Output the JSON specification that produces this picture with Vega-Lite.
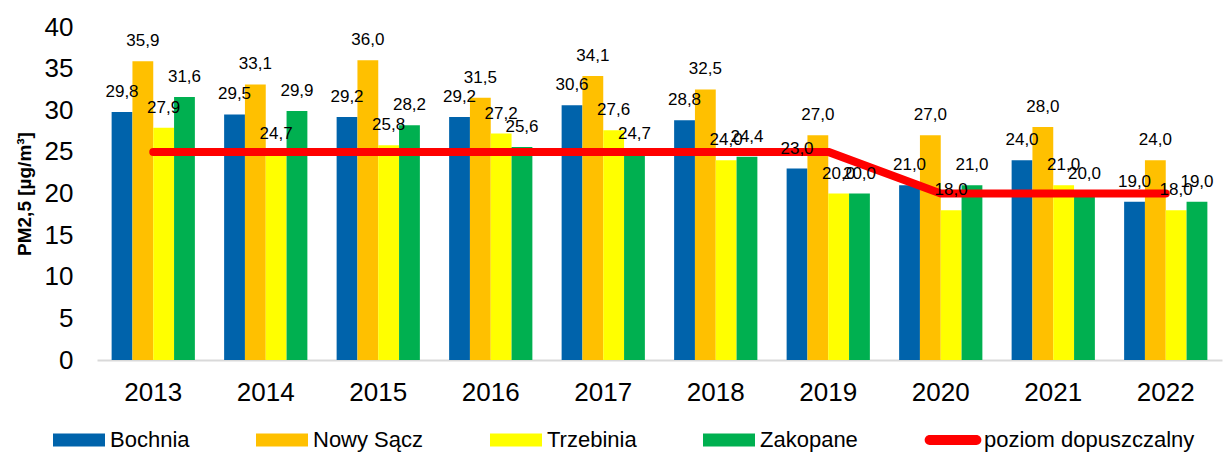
{
  "$schema": "https://vega.github.io/schema/vega-lite/v6.json",
  "autosize": "none",
  "width": 1125,
  "height": 333,
  "padding": {"left": 97, "top": 27, "right": 6, "bottom": 93},
  "background": "white",
  "config": {
    "font": "Liberation Sans",
    "view": {"stroke": null},
    "locale": {"number": {"decimal": ",", "thousands": " ", "grouping": [3], "currency": ["", " zł"]}}
  },
  "datasets": {
    "bars": [
      {"year": "2013", "series": "Bochnia", "value": 29.8},
      {"year": "2013", "series": "Nowy Sącz", "value": 35.9},
      {"year": "2013", "series": "Trzebinia", "value": 27.9},
      {"year": "2013", "series": "Zakopane", "value": 31.6},
      {"year": "2014", "series": "Bochnia", "value": 29.5},
      {"year": "2014", "series": "Nowy Sącz", "value": 33.1},
      {"year": "2014", "series": "Trzebinia", "value": 24.7},
      {"year": "2014", "series": "Zakopane", "value": 29.9},
      {"year": "2015", "series": "Bochnia", "value": 29.2},
      {"year": "2015", "series": "Nowy Sącz", "value": 36.0},
      {"year": "2015", "series": "Trzebinia", "value": 25.8},
      {"year": "2015", "series": "Zakopane", "value": 28.2},
      {"year": "2016", "series": "Bochnia", "value": 29.2},
      {"year": "2016", "series": "Nowy Sącz", "value": 31.5},
      {"year": "2016", "series": "Trzebinia", "value": 27.2},
      {"year": "2016", "series": "Zakopane", "value": 25.6},
      {"year": "2017", "series": "Bochnia", "value": 30.6},
      {"year": "2017", "series": "Nowy Sącz", "value": 34.1},
      {"year": "2017", "series": "Trzebinia", "value": 27.6},
      {"year": "2017", "series": "Zakopane", "value": 24.7},
      {"year": "2018", "series": "Bochnia", "value": 28.8},
      {"year": "2018", "series": "Nowy Sącz", "value": 32.5},
      {"year": "2018", "series": "Trzebinia", "value": 24.0},
      {"year": "2018", "series": "Zakopane", "value": 24.4},
      {"year": "2019", "series": "Bochnia", "value": 23.0},
      {"year": "2019", "series": "Nowy Sącz", "value": 27.0},
      {"year": "2019", "series": "Trzebinia", "value": 20.0},
      {"year": "2019", "series": "Zakopane", "value": 20.0},
      {"year": "2020", "series": "Bochnia", "value": 21.0},
      {"year": "2020", "series": "Nowy Sącz", "value": 27.0},
      {"year": "2020", "series": "Trzebinia", "value": 18.0},
      {"year": "2020", "series": "Zakopane", "value": 21.0},
      {"year": "2021", "series": "Bochnia", "value": 24.0},
      {"year": "2021", "series": "Nowy Sącz", "value": 28.0},
      {"year": "2021", "series": "Trzebinia", "value": 21.0},
      {"year": "2021", "series": "Zakopane", "value": 20.0},
      {"year": "2022", "series": "Bochnia", "value": 19.0},
      {"year": "2022", "series": "Nowy Sącz", "value": 24.0},
      {"year": "2022", "series": "Trzebinia", "value": 18.0},
      {"year": "2022", "series": "Zakopane", "value": 19.0}
    ],
    "limit": [
      {"year": "2013", "series": "poziom dopuszczalny", "value": 25},
      {"year": "2014", "series": "poziom dopuszczalny", "value": 25},
      {"year": "2015", "series": "poziom dopuszczalny", "value": 25},
      {"year": "2016", "series": "poziom dopuszczalny", "value": 25},
      {"year": "2017", "series": "poziom dopuszczalny", "value": 25},
      {"year": "2018", "series": "poziom dopuszczalny", "value": 25},
      {"year": "2019", "series": "poziom dopuszczalny", "value": 25},
      {"year": "2020", "series": "poziom dopuszczalny", "value": 20},
      {"year": "2021", "series": "poziom dopuszczalny", "value": 20},
      {"year": "2022", "series": "poziom dopuszczalny", "value": 20}
    ]
  },
  "encoding": {
    "x": {
      "field": "year", "type": "nominal", "title": null,
      "scale": {"paddingInner": 0.26, "paddingOuter": 0.13},
      "axis": {"labelAngle": 0, "labelFontSize": 26, "labelColor": "#000000", "labelPadding": 19, "ticks": false, "domainColor": "#d9d9d9", "domainWidth": 2}
    },
    "y": {
      "field": "value", "type": "quantitative",
      "scale": {"domain": [0, 40], "nice": false},
      "title": "PM2,5 [µg/m³]",
      "axis": {"values": [0, 5, 10, 15, 20, 25, 30, 35, 40], "grid": false, "domain": false, "ticks": false, "labelFontSize": 26, "labelColor": "#000000", "labelPadding": 24, "titleFontSize": 19, "titleFontWeight": "bold", "titleColor": "#000000", "titlePadding": 10, "format": "d"}
    }
  },
  "layer": [
    {
      "data": {"name": "bars"},
      "mark": {"type": "bar"},
      "encoding": {
        "xOffset": {"field": "series", "type": "nominal", "scale": {"domain": ["Bochnia", "Nowy Sącz", "Trzebinia", "Zakopane"], "paddingInner": 0, "paddingOuter": 0}},
        "color": {
          "field": "series", "type": "nominal",
          "scale": {"domain": ["Bochnia", "Nowy Sącz", "Trzebinia", "Zakopane", "poziom dopuszczalny"], "range": ["#0063AB", "#FFC000", "#FFFF00", "#00B050", "#FF0000"]},
          "legend": {
            "title": null, "orient": "none", "direction": "horizontal", "legendX": -44, "legendY": 387,
            "labelFontSize": 22, "labelColor": "#000000", "labelOffset": 5, "columnPadding": 66, "labelLimit": 400,
            "symbolType": "M-1,-0.25H1V0.25H-1Z", "symbolSize": 2704, "symbolStrokeWidth": 0,
            "encode": {"symbols": {"update": {
              "fill": {"scale": "color", "field": "value"},
              "shape": {"signal": "datum.value === 'poziom dopuszczalny' ? 'M-0.9,-0.19H0.9A0.19,0.19 0 0 1 0.9,0.19H-0.9A0.19,0.19 0 0 1 -0.9,-0.19Z' : 'M-1,-0.25H1V0.25H-1Z'"}
            }}}
          }
        }
      }
    },
    {
      "data": {"name": "limit"},
      "mark": {"type": "line", "strokeWidth": 8, "strokeCap": "round", "strokeJoin": "round"},
      "encoding": {
        "color": {"field": "series", "type": "nominal"}
      }
    },
    {
      "data": {"name": "bars"},
      "mark": {"type": "text", "fontSize": 17, "color": "#000000", "dy": -15, "baseline": "alphabetic", "align": "center"},
      "encoding": {
        "xOffset": {"field": "series", "type": "nominal", "scale": {"domain": ["Bochnia", "Nowy Sącz", "Trzebinia", "Zakopane"], "paddingInner": 0, "paddingOuter": 0}},
        "text": {"field": "value", "type": "quantitative", "format": ".1f"}
      }
    }
  ]
}
